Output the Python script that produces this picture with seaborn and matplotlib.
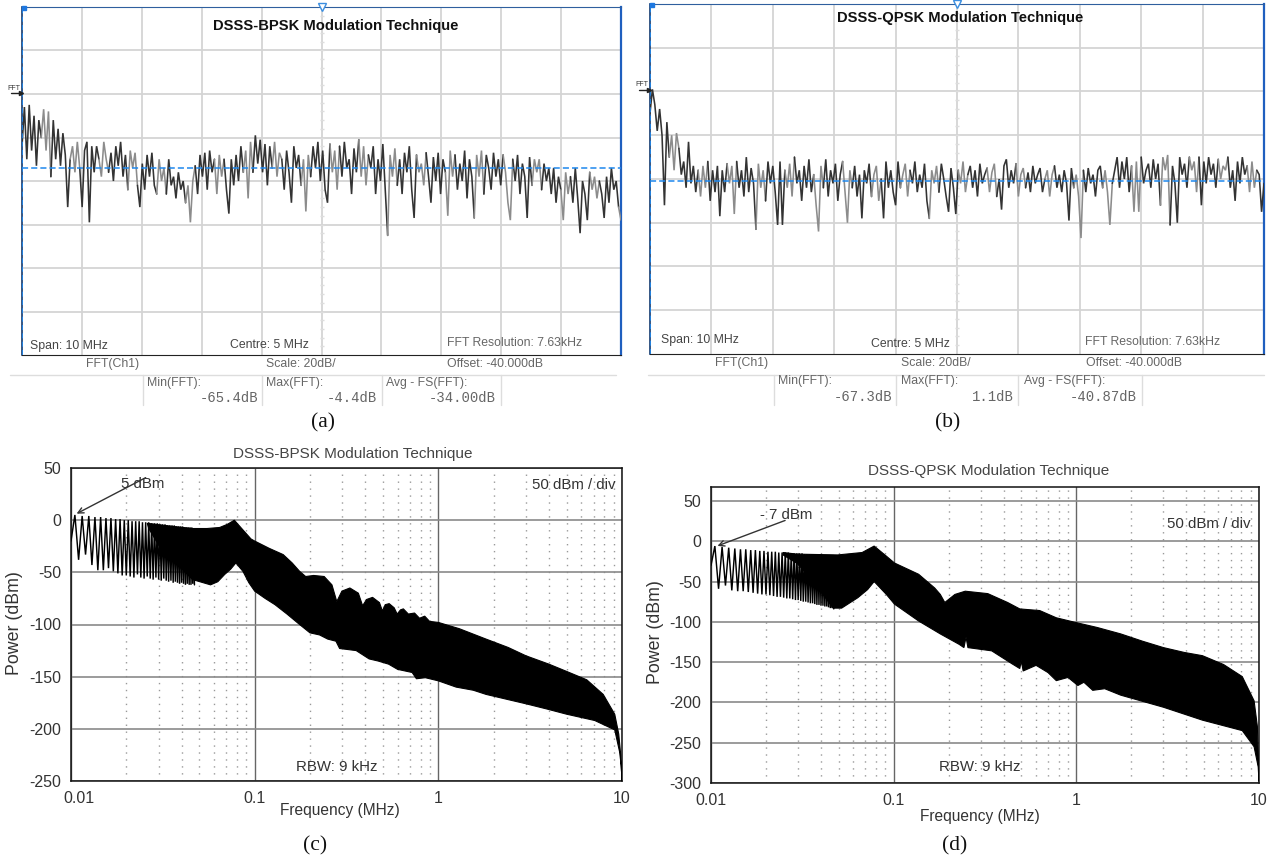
import matplotlib
matplotlib.use("Agg")
import matplotlib.pyplot as plt
import matplotlib.transforms as mtrans
import numpy as np
import pandas as pd
import seaborn as sns

W, H = 1269, 860

# scope traces, dB, evenly spread over the 10 MHz span
trace_a = [
    -24, -6, -30, -5, -26, -10, -33, -12, -20, -7,
    -26, -8, -38, -12, -30, -16, -33, -18, -28, -52,
    -30, -24, -36, -22, -34, -52, -26, -22, -59, -24,
    -36, -24, -30, -38, -22, -30, -36, -27, -40, -24,
    -33, -22, -38, -28, -44, -26, -34, -27, -42, -52,
    -32, -44, -28, -38, -27, -42, -46, -30, -40, -34,
    -46, -30, -42, -38, -48, -36, -44, -40, -50, -42,
    -59, -40, -33, -46, -28, -38, -27, -44, -26, -36,
    -30, -46, -28, -38, -30, -44, -55, -30, -42, -28,
    -40, -24, -36, -26, -48, -22, -36, -19, -32, -21,
    -36, -23, -42, -24, -34, -22, -38, -27, -30, -44,
    -26, -36, -50, -24, -34, -28, -42, -30, -54, -28,
    -38, -24, -34, -22, -40, -26, -44, -50, -23, -36,
    -26, -44, -24, -38, -22, -34, -30, -46, -25, -36,
    -21, -38, -24, -42, -28, -34, -24, -46, -30, -40,
    -23, -44, -65, -28, -38, -25, -42, -30, -46, -27,
    -36, -24, -44, -57, -28, -36, -32, -42, -27, -38,
    -50, -29, -40, -27, -46, -30, -36, -56, -26, -38,
    -28, -44, -32, -40, -26, -48, -30, -38, -57, -28,
    -38, -26, -46, -28, -34, -44, -27, -38, -30, -42,
    -28, -36, -50, -58, -30, -40, -28, -46, -32, -38,
    -57, -29, -42, -30, -36, -30, -44, -32, -40, -34,
    -46, -34, -50, -38, -44, -58, -36, -46, -38, -50,
    -34, -48, -64, -40, -46, -58, -36, -44, -38, -48,
    -40, -46, -57, -38, -50, -34, -44, -40, -52, -58,
]
trace_b = [
    -10, 1, -6, -18, -8, -20, -52, -14, -30, -20,
    -36, -19, -26, -38, -32, -44, -23, -42, -34, -46,
    -36, -48, -34, -44, -32, -50, -36, -46, -34, -57,
    -36, -46, -33, -42, -34, -56, -32, -44, -36, -48,
    -30, -46, -35, -42, -63, -33, -44, -36, -50, -32,
    -42, -34, -46, -61, -32, -61, -36, -44, -33, -48,
    -30, -42, -36, -50, -34, -44, -31, -46, -38, -52,
    -64, -34, -44, -31, -48, -36, -42, -33, -50, -38,
    -32, -46, -60, -36, -44, -34, -48, -38, -58, -36,
    -42, -33, -48, -38, -34, -50, -40, -58, -32, -44,
    -36, -46, -52, -32, -44, -38, -33, -48, -36, -42,
    -32, -46, -38, -44, -33, -50, -58, -36, -42, -34,
    -46, -33, -40, -48, -55, -35, -44, -56, -36, -42,
    -32, -46, -38, -34, -44, -36, -48, -33, -42, -38,
    -35, -46, -37, -33, -48, -40, -54, -34, -31, -44,
    -36, -42, -33, -48, -38, -35, -44, -37, -46, -34,
    -42, -38, -35, -46, -40, -36, -48, -38, -34, -44,
    -38, -46, -36, -42, -59, -35, -44, -38, -48, -67,
    -36, -46, -35, -42, -38, -48, -36, -34, -44, -36,
    -46, -61, -42, -36, -30, -44, -32, -40, -30, -46,
    -34, -55, -32, -55, -30, -42, -36, -33, -44, -31,
    -40, -33, -52, -30, -36, -29, -61, -34, -42, -60,
    -30, -38, -33, -44, -30, -36, -32, -46, -30, -52,
    -32, -42, -30, -38, -33, -44, -31, -40, -34, -36,
    -30, -44, -36, -50, -32, -42, -30, -38, -34, -46,
    -32, -44, -36, -38, -55, -42,
]
avg_a = -34.0
avg_b = -40.87

# comb at the low end of the spectra: peak, null, peak, null ... in MHz
comb_freq = [
    0.0100, 0.0105, 0.0110, 0.0115, 0.0120, 0.0125, 0.0130, 0.0135, 0.0140, 0.0145,
    0.0150, 0.0155, 0.0160, 0.0165, 0.0170, 0.0175, 0.0180, 0.0185, 0.0190, 0.0195,
    0.0200, 0.0205, 0.0210, 0.0215, 0.0220, 0.0225, 0.0230, 0.0235, 0.0240, 0.0245,
    0.0250, 0.0255, 0.0260, 0.0265, 0.0270, 0.0275, 0.0280, 0.0285, 0.0290, 0.0295,
    0.0300, 0.0305, 0.0310, 0.0315, 0.0320, 0.0325, 0.0330, 0.0335, 0.0340, 0.0345,
    0.0350, 0.0355, 0.0360, 0.0365, 0.0370, 0.0375, 0.0380, 0.0385, 0.0390, 0.0395,
    0.0400, 0.0405, 0.0410, 0.0415, 0.0420, 0.0425, 0.0430, 0.0435, 0.0440, 0.0445,
    0.0450, 0.0455, 0.0460, 0.0465, 0.0470,
]
comb_c = [
    -20, 5, -38, 4, -33, 4, -43, 3, -48, 3,
    -48, 2, -46, 2, -49, 1, -51, 1, -53, 0,
    -53, 0, -54, -1, -55, -1, -52, -1, -55, -2,
    -56, -2, -54, -2, -56, -3, -57, -3, -55, -3,
    -57, -4, -58, -4, -56, -4, -58, -5, -59, -5,
    -58, -5, -60, -5, -59, -6, -60, -6, -61, -6,
    -60, -6, -61, -7, -62, -7, -61, -7, -62, -7,
    -62, -7, -61, -8, -62,
]
comb_d = [
    -30, -6, -59, -7, -55, -8, -61, -9, -62, -10,
    -62, -10, -63, -11, -64, -11, -65, -12, -66, -12,
    -66, -13, -67, -13, -68, -13, -69, -14, -69, -14,
    -70, -14, -71, -14, -71, -15, -72, -15, -73, -15,
    -73, -15, -74, -15, -75, -16, -75, -16, -76, -16,
    -77, -16, -77, -16, -78, -16, -79, -16, -79, -16,
    -80, -17, -80, -17, -81, -17, -81, -17, -82, -17,
    -83, -17, -83, -17, -84,
]

# envelopes of the solid part of the spectra
c_upper_freq = [0.026, 0.036, 0.046, 0.055, 0.0645, 0.071, 0.0759, 0.0775, 0.085, 0.0955, 0.10, 0.12, 0.143,
                0.16, 0.1756, 0.1895, 0.2095, 0.239, 0.2635, 0.28, 0.2985, 0.33, 0.367, 0.387, 0.407,
                0.4385, 0.478, 0.496, 0.514, 0.54, 0.575, 0.597, 0.622, 0.645, 0.687, 0.742, 0.79,
                0.843, 0.896, 1.0, 1.3, 1.82, 2.4, 3.0, 4.0, 5.0, 6.43, 7.9, 9.13, 9.6, 9.84, 10.0]
c_upper_db = [-3, -6, -8, -8, -7, -4, -1, 0, -8, -18, -20, -27, -33,
              -41, -49, -54, -53, -54, -62, -78, -68, -65, -70, -82, -76,
              -74, -79, -87, -81, -80, -84, -90, -86, -85, -90, -89, -94,
              -92, -97, -98, -104, -114, -122, -130, -138, -145, -153, -167, -186, -205, -225, -250]
c_lower_freq = [0.0265, 0.0305, 0.0358, 0.046, 0.0575, 0.063, 0.0687, 0.074, 0.079, 0.0863, 0.093, 0.10, 0.114,
                0.129, 0.15, 0.1756, 0.2, 0.2255, 0.25, 0.277, 0.29, 0.357, 0.42, 0.47, 0.536, 0.6, 0.72,
                0.76, 0.85, 1.0, 1.25, 1.55, 1.82, 2.4, 3.0, 3.9, 5.0, 7.1, 9.13, 9.7, 9.9, 10.0]
c_lower_db = [-8, -26, -38, -57, -62, -59, -52, -47, -41, -49, -60, -68, -75,
              -81, -90, -100, -108, -110, -114, -116, -123, -125, -133, -135, -138, -143, -146,
              -152, -151, -154, -160, -163, -167, -172, -176, -181, -186, -192, -201, -222, -235, -250]

d_upper_freq = [0.0248, 0.0296, 0.0494, 0.0672, 0.0782, 0.0912, 0.101, 0.137, 0.1677, 0.18, 0.1905, 0.2165,
                0.2465, 0.3275, 0.4205, 0.4905, 0.63, 0.777, 1.0, 1.3, 1.75, 2.3, 3.0, 3.9, 4.9, 6.4, 8.1, 9.4, 9.8, 10.0]
d_upper_db = [-14, -16, -17, -14, -6, -18.5, -27, -41, -58, -66, -76, -66,
              -62, -65, -76, -84, -86, -95, -101, -107, -115, -124, -132, -138, -142, -153, -168, -198, -230, -298]
d_lower_freq = [0.0248, 0.0296, 0.0362, 0.0466, 0.0519, 0.0637, 0.072, 0.0782, 0.0912, 0.101, 0.137, 0.18, 0.2285,
                0.2425, 0.249, 0.255, 0.344, 0.444, 0.4905, 0.4993, 0.5117, 0.602, 0.70, 0.777, 0.90,
                1.02, 1.10, 1.23, 1.43, 1.75, 3.0, 4.9, 8.1, 9.4, 9.9, 10.0]
d_lower_db = [-17, -27.5, -49, -83, -83, -70, -60, -50, -66, -78, -99, -115, -128,
              -132, -119, -132, -136, -152, -158, -148, -161, -154, -163, -173, -169,
              -179, -175, -185, -183, -191, -206, -222, -235, -255, -280, -298]

c_ticks = [50, 0, -50, -100, -150, -200, -250]
d_ticks = [50, 0, -50, -100, -150, -200, -250, -300]
freq_ticks = [0.01, 0.1, 1, 10]
freq_labels = ["0.01", "0.1", "1", "10"]

sns.set_style("white")
plt.rcParams["font.family"] = ["Liberation Sans", "DejaVu Sans"]
plt.rcParams["axes.unicode_minus"] = False

fig = plt.figure(figsize=(W / 100, H / 100), dpi=100)


def axes_px(left, top, right, bottom):
    return fig.add_axes([left / W, 1 - bottom / H, (right - left) / W, (bottom - top) / H])


def label(x, y, s, size=9, color="#555555", ha="left", **kw):
    fig.text(x / W, 1 - y / H, s, fontsize=size, color=color, ha=ha, va="center", **kw)


def scope_panel(box, trace, avg, title, title_x, title_y, marker_y):
    ax = axes_px(*box)
    ax.set_xlim(0, 10)
    ax.set_ylim(-120, 40)
    ax.set_xticks(np.arange(1, 10))
    ax.set_yticks(np.arange(-100, 40, 20))
    ax.tick_params(length=0, labelbottom=False, labelleft=False)
    ax.grid(True, color="#d4d4d4", lw=1.3)
    ax.set_axisbelow(True)
    # little ticks on the centre line
    ax.plot([5] * 39, np.arange(-116, 40, 4), ls="none", marker="_", ms=3.5, color="#dddddd", zorder=1)

    x = np.linspace(0, 10, len(trace))
    df = pd.DataFrame({"mhz": x, "db": trace})
    start, dark = 0, True
    while start < len(df) - 1:
        stop = start + (8 if dark else 4)
        sns.lineplot(data=df.iloc[start:stop + 1], x="mhz", y="db", ax=ax, estimator=None,
                     sort=False, color="#333333" if dark else "#8c8c8c", lw=1.15,
                     solid_joinstyle="miter", zorder=3)
        start, dark = stop, not dark
    ax.axhline(avg, color="#1e88ee", ls=(0, (4, 2)), lw=1.1, zorder=4)
    ax.set_xlabel("")
    ax.set_ylabel("")

    ax.spines["top"].set_color("#2f5f9e")
    ax.spines["right"].set_color("#1f5fbf")
    ax.spines["right"].set_linewidth(1.6)
    ax.spines["left"].set_color("#123a70")
    ax.spines["left"].set_linewidth(1.2)
    ax.spines["bottom"].set_color("#222222")
    ax.axvline(0, color="#1e88ee", ls=(0, (3, 2)), lw=1.2, zorder=5)
    ax.plot([5], [40], marker="v", ms=6, mfc="white", mec="#3b8ee0", clip_on=False, zorder=6)
    ax.plot([0.03], [39.5], marker="s", ms=3, color="#1e78e0", clip_on=False, zorder=6)
    label(title_x, title_y, title, size=10.6, color="#111111", fontweight="bold")
    label(box[0] - 15, marker_y - 5, "FFT", size=5, color="#333333")
    fig.add_artist(plt.Line2D([(box[0] - 11) / W, (box[0] - 1) / W], [1 - marker_y / H] * 2,
                              color="#222222", lw=1, marker=">", ms=3, markevery=[1]))
    return ax


def readout(rows, seps, sep_line):
    for x, y, s, size, color, ha in rows:
        if s.startswith(("-", "1.1")):
            label(x, y, s, size=size, color=color, ha=ha, family="Liberation Mono")
        else:
            label(x, y, s, size=size, color=color, ha=ha)
    fig.add_artist(plt.Line2D([sep_line[0] / W, sep_line[1] / W], [1 - 375 / H] * 2, color="#dddddd", lw=1))
    for sx in seps:
        fig.add_artist(plt.Line2D([sx / W] * 2, [1 - 375 / H, 1 - 405 / H], color="#dddddd", lw=1))


def spectrum_panel(box, ylim, yticks, comb, up_f, up_db, lo_f, lo_db):
    ax = axes_px(*box)
    ax.set_xscale("log")
    ax.set_xlim(0.01, 10)
    ax.set_ylim(*ylim)
    ax.set_yticks(yticks)
    ax.set_xticks(freq_ticks, freq_labels)
    ax.xaxis.set_minor_locator(matplotlib.ticker.LogLocator(base=10, subs=np.arange(2, 10), numticks=10))
    ax.xaxis.set_minor_formatter(matplotlib.ticker.NullFormatter())
    ax.tick_params(which="both", length=0)
    ax.tick_params(axis="both", labelsize=11.5, labelcolor="#333333", pad=7)
    ax.grid(True, axis="y", color="#8a8a8a", lw=1.2)
    ax.grid(True, axis="x", which="major", color="#666666", lw=1)
    ax.grid(True, axis="x", which="minor", color="#999999", ls=(0, (1, 4)), lw=1)
    ax.set_axisbelow(True)

    sns.lineplot(x=comb_freq, y=comb, ax=ax, estimator=None, sort=False, color="black", lw=1.05,
                 solid_joinstyle="miter", zorder=3)
    ax.fill(list(up_f) + list(lo_f[::-1]), list(up_db) + list(lo_db[::-1]), color="black", lw=0.8, zorder=3)
    ax.set_xlabel("")
    ax.set_ylabel("")
    for s in ax.spines.values():
        s.set_visible(True)
        s.set_color("#111111")
        s.set_linewidth(1.1)
    return ax


scope_panel((22, 7, 621, 355), trace_a, avg_a, "DSSS-BPSK Modulation Technique", 213, 26, 93)
scope_panel((650, 4, 1264, 354), trace_b, avg_b, "DSSS-QPSK Modulation Technique", 837, 18, 90)

readout([
    (30, 346, "Span: 10 MHz", 8.8, "#444444", "left"),
    (230, 345, "Centre: 5 MHz", 8.8, "#444444", "left"),
    (447, 343, "FFT Resolution: 7.63kHz", 8.8, "#666666", "left"),
    (86, 364, "FFT(Ch1)", 8.8, "#666666", "left"),
    (266, 364, "Scale: 20dB/", 8.8, "#666666", "left"),
    (447, 364, "Offset: -40.000dB", 8.8, "#666666", "left"),
    (147, 383, "Min(FFT):", 8.8, "#666666", "left"),
    (266, 383, "Max(FFT):", 8.8, "#666666", "left"),
    (386, 383, "Avg - FS(FFT):", 8.8, "#666666", "left"),
    (258, 398, "-65.4dB", 10, "#666666", "right"),
    (377, 398, "-4.4dB", 10, "#666666", "right"),
    (496, 398, "-34.00dB", 10, "#666666", "right"),
], [143, 262, 382, 501], (10, 616))
readout([
    (661, 340, "Span: 10 MHz", 8.8, "#444444", "left"),
    (871, 344, "Centre: 5 MHz", 8.8, "#444444", "left"),
    (1085, 342, "FFT Resolution: 7.63kHz", 8.8, "#666666", "left"),
    (715, 363, "FFT(Ch1)", 8.8, "#666666", "left"),
    (901, 363, "Scale: 20dB/", 8.8, "#666666", "left"),
    (1086, 363, "Offset: -40.000dB", 8.8, "#666666", "left"),
    (778, 381, "Min(FFT):", 8.8, "#666666", "left"),
    (901, 381, "Max(FFT):", 8.8, "#666666", "left"),
    (1024, 381, "Avg - FS(FFT):", 8.8, "#666666", "left"),
    (892, 397, "-67.3dB", 10, "#666666", "right"),
    (1014, 397, "1.1dB", 10, "#666666", "right"),
    (1137, 397, "-40.87dB", 10, "#666666", "right"),
], [774, 896, 1018, 1142], (648, 1264))

ax_c = spectrum_panel((71, 468, 622, 781), (-250, 50), c_ticks, comb_c,
                      c_upper_freq, c_upper_db, c_lower_freq, c_lower_db)
ax_d = spectrum_panel((711, 487, 1259, 783), (-300, 67.3), d_ticks, comb_d,
                      d_upper_freq, d_upper_db, d_lower_freq, d_lower_db)
# first label of (c) sits right of its tick
ax_c.get_xticklabels()[0].set_transform(
    ax_c.get_xticklabels()[0].get_transform() + mtrans.ScaledTranslation(8 / 100, 0, fig.dpi_scale_trans))

ax_c.annotate("", xy=(0.0104, 5), xytext=(0.0263, 42),
              arrowprops=dict(arrowstyle="->", color="#333333", lw=1))
ax_d.annotate("", xy=(0.0105, -7), xytext=(0.0263, 27),
              arrowprops=dict(arrowstyle="->", color="#333333", lw=1))

label(233, 454, "DSSS-BPSK Modulation Technique", size=11, color="#444444")
label(868, 471, "DSSS-QPSK Modulation Technique", size=11, color="#444444")
label(121, 484, "5 dBm", size=10.8, color="#333333")
label(760, 515, "- 7 dBm", size=10.8, color="#333333")
label(532, 485, "50 dBm / div", size=10.8, color="#333333")
label(1167, 524, "50 dBm / div", size=10.8, color="#333333")
label(296, 767, "RBW: 9 kHz", size=10.8, color="#333333")
label(939, 767, "RBW: 9 kHz", size=10.8, color="#333333")
label(280, 811, "Frequency (MHz)", size=11.2, color="#333333")
label(920, 817, "Frequency (MHz)", size=11.2, color="#333333")
label(15, 623, "Power (dBm)", size=12.8, color="#333333", ha="center", rotation=90)
label(655, 632, "Power (dBm)", size=12.8, color="#333333", ha="center", rotation=90)

for x, y, s in [(323, 423, "(a)"), (948, 423, "(b)"), (315, 846, "(c)"), (955, 846, "(d)")]:
    label(x, y, s, size=15.5, color="#111111", ha="center", family="Liberation Serif")

fig.savefig("out.png", dpi=100, facecolor="white")
